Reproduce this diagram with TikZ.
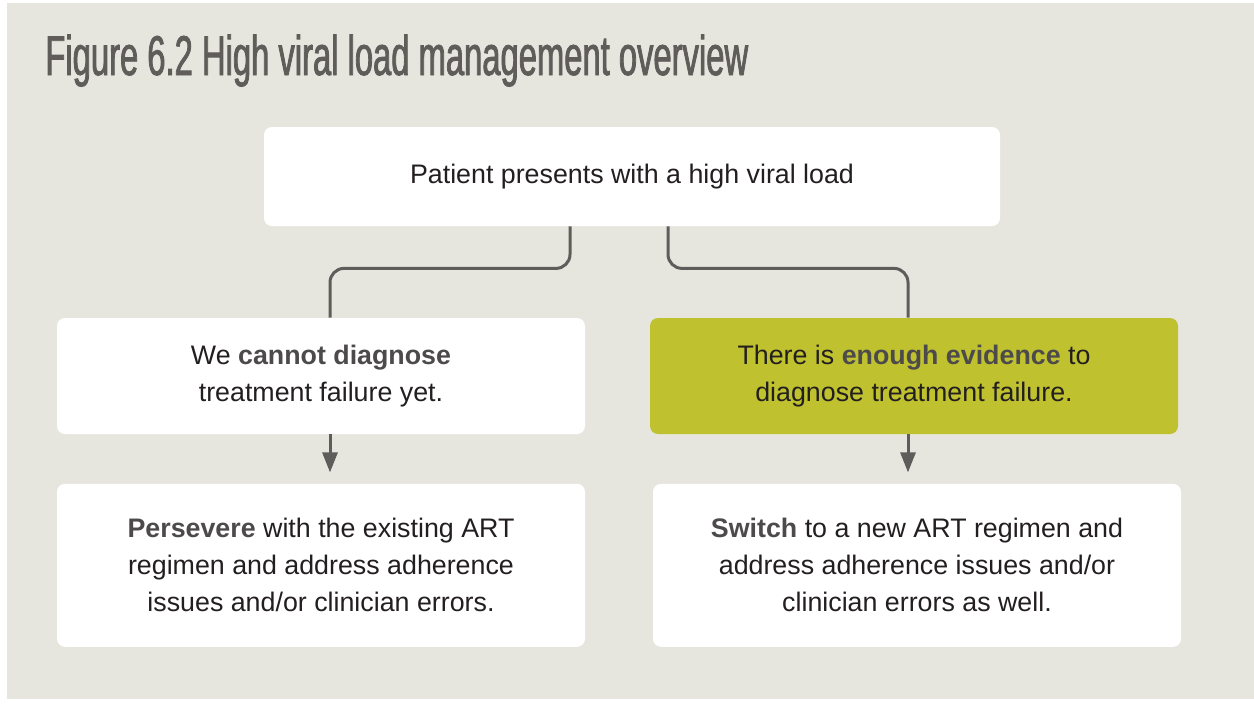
\documentclass[tikz,border=0pt]{standalone}
\usepackage{fontspec}
\setmainfont{Liberation Sans}
\newfontfamily\titlefont{Liberation Sans}[FakeStretch=0.585, FakeBold=1.4]
\usetikzlibrary{positioning,arrows.meta}

\definecolor{panel}{HTML}{E6E6DE}
\definecolor{okgreen}{HTML}{BFC22E}
\definecolor{wire}{HTML}{5F5D5B}
\definecolor{ink}{HTML}{231F20}
\definecolor{strong}{HTML}{4D4A4B}
\definecolor{titlegray}{HTML}{5F5C5A}
\newcommand{\hl}[1]{{\bfseries\color{strong}#1}}

\tikzset{
  box/.style={fill=white, rounded corners=4pt, minimum width=264pt, align=center,
    text=ink, font=\fontsize{13.4}{18.5}\selectfont, inner sep=0pt},
  link/.style={draw=wire, line width=1.5pt, rounded corners=7pt},
  go/.style={link, -{Triangle[length=10pt,width=7.5pt]}, shorten >=5.5pt},
}

\begin{document}
\begin{tikzpicture}[x=0.5pt, y=-0.5pt]
\useasboundingbox (0,0) rectangle (1254,707);
\fill[panel] (7,3) rectangle (1254,699);

\node[anchor=base west, inner sep=0pt, text=titlegray,
  font=\titlefont\fontsize{28}{30}\selectfont] (title) at (45,75)
  {Figure 6.2 High viral load management overview};

\node[box, minimum width=368pt, minimum height=49.5pt] (hvl) at (632,176.5)
  {Patient presents with a high viral load};
\node[box, minimum height=58pt] (nodx) at (321,376)
  {We \hl{cannot diagnose}\\treatment failure yet.};
\node[box, fill=okgreen, minimum height=58pt] (dx) at (914,376)
  {There is \hl{enough evidence} to\\diagnose treatment failure.};

\node[box, minimum height=81.5pt, below=24.5pt of nodx] (stay)
  {\hl{Persevere} with the existing ART\\regimen and address adherence\\issues and/or clinician errors.};
\node[box, minimum height=81.5pt, below=24.5pt of dx, xshift=1.5pt] (switch)
  {\hl{Switch} to a new ART regimen and\\address adherence issues and/or\\clinician errors as well.};

\draw[link] ([xshift=-31pt]hvl.south) -- ++(0,42) -| ([xshift=4.5pt]nodx.north);
\draw[link] ([xshift=18pt]hvl.south) -- ++(0,42) -| ([xshift=-3pt]dx.north);

\draw[go] ([xshift=4.5pt]nodx.south) -- ([xshift=4.5pt]nodx.south |- stay.north);
\draw[go] ([xshift=-3pt]dx.south) -- ([xshift=-3pt]dx.south |- switch.north);
\end{tikzpicture}
\end{document}
